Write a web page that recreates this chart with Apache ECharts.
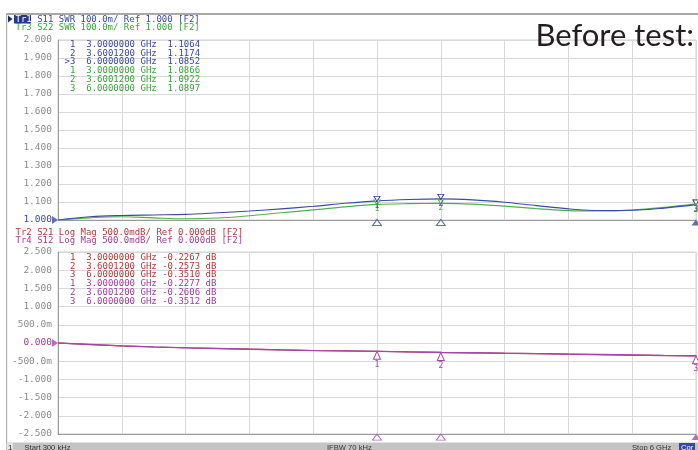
<!DOCTYPE html>
<html><head><meta charset="utf-8">
<script src="https://cdn.jsdelivr.net/npm/echarts@6/dist/echarts.min.js"></script>
<style>html,body{margin:0;padding:0;background:#fff}#c{width:698px;height:450px}</style>
</head><body><div id="c"></div>
<script>
// Frequencies (GHz)
const freqGHz = [0,0.3,0.6,0.9,1.2,1.5,1.8,2.1,2.4,2.7,3.0,3.3,3.6,3.9,4.2,4.5,4.8,5.1,5.4,5.7,6.0];
// Top plot: SWR
const s11Swr = [1.000,1.018,1.025,1.028,1.031,1.040,1.050,1.062,1.076,1.093,1.1064,1.114,1.1174,1.112,1.099,1.080,1.062,1.053,1.054,1.066,1.0852];
const s22Swr = [1.000,1.012,1.018,1.012,1.007,1.011,1.024,1.040,1.056,1.073,1.0866,1.091,1.0922,1.088,1.077,1.063,1.052,1.050,1.055,1.070,1.0897];
// Bottom plot: Log Mag (dB)
const s21dB = [0.000,-0.042,-0.080,-0.110,-0.131,-0.152,-0.171,-0.190,-0.206,-0.217,-0.2267,-0.244,-0.2573,-0.269,-0.281,-0.292,-0.306,-0.317,-0.331,-0.343,-0.3510];
const s12dB = [0.000,-0.040,-0.078,-0.108,-0.132,-0.150,-0.172,-0.188,-0.207,-0.216,-0.2277,-0.243,-0.2606,-0.268,-0.282,-0.291,-0.307,-0.316,-0.330,-0.344,-0.3512];
// Marker frequencies
const markerFreq = [3.0, 3.6001200, 6.0];
const markerNames = ['1','2','3'];
// Marker tables
const topTable = [
  [' 1','3.0000000','1.1064'],[' 2','3.6001200','1.1174'],['>3','6.0000000','1.0852'],
  [' 1','3.0000000','1.0866'],[' 2','3.6001200','1.0922'],[' 3','6.0000000','1.0897']];
const botTable = [
  [' 1','3.0000000','-0.2267'],[' 2','3.6001200','-0.2573'],[' 3','6.0000000','-0.3510'],
  [' 1','3.0000000','-0.2277'],[' 2','3.6001200','-0.2606'],[' 3','6.0000000','-0.3512']];
// Headers
const headerTop = ['Tr1 S11 SWR 100.0m/ Ref 1.000 [F2]','Tr3 S22 SWR 100.0m/ Ref 1.000 [F2]'];
const headerBot = ['Tr2 S21 Log Mag 500.0mdB/ Ref 0.000dB [F2]','Tr4 S12 Log Mag 500.0mdB/ Ref 0.000dB [F2]'];
const statusTexts = ['Start 300 kHz','IFBW 70 kHz','Stop 6 GHz'];

const C = {blue:'#3c4b9e', green:'#4fb04f', red:'#a83434', purple:'#a546a8',
  tBlue:'#3a4aa0', tGreen:'#3da33d', tRed:'#b03a3a', tPurple:'#9c3e9c', grid:'#d9d9d9', axis:'#9a9a9a', lbl:'#8c8c8c'};
const MONO = 'DejaVu Sans Mono';

function pairs(ys){ return freqGHz.map((f,i)=>[f,ys[i]]); }
function valAt(ys,f){
  const i = freqGHz.findIndex(x=>Math.abs(x-f)<0.01);
  return ys[i];
}
const chart = echarts.init(document.getElementById('c'), null, {renderer:'canvas'});

function topLbl(v){ return v.toFixed(3); }
function botLbl(v){ if (Math.abs(Math.abs(v)-0.5)<1e-9) return (v*1000).toFixed(1)+'m'; const s=v.toFixed(3); return s==='-0.000'?'0.000':s; }

function traceMarkers(ys, color, top){
  return {
    symbol:'triangle', symbolSize: top?[6,5]:[7,8], symbolRotate: top?180:0,
    symbolOffset: top?[0,-2]:[0,4],
    itemStyle:{color:'#fff', borderColor:color, borderWidth:1},
    label:{show:true, position:'bottom', distance: top?0:1, color:color, fontFamily:MONO, fontSize:8},
    data: markerFreq.map((f,i)=>({coord:[f, valAt(ys,f)], label:{formatter:markerNames[i]}}))
  };
}

const series = [
  {type:'line', xAxisIndex:0, yAxisIndex:0, data:pairs(s22Swr), showSymbol:false, smooth:0.35, lineStyle:{color:C.green,width:1.1}, z:3,
    markPoint: traceMarkers(s22Swr, C.green, true), silent:true},
  {type:'line', xAxisIndex:0, yAxisIndex:0, data:pairs(s11Swr), showSymbol:false, smooth:0.35, lineStyle:{color:C.blue,width:1.1}, z:4,
    markPoint: traceMarkers(s11Swr, C.blue, true), silent:true},
  {type:'line', xAxisIndex:1, yAxisIndex:1, data:pairs(s21dB), showSymbol:false, lineStyle:{color:C.red,width:1.2}, z:3, silent:true},
  {type:'line', xAxisIndex:1, yAxisIndex:1, data:pairs(s12dB), showSymbol:false, lineStyle:{color:C.purple,width:1.3}, z:4,
    markPoint: traceMarkers(s12dB, C.purple, false), silent:true},
  {type:'scatter', xAxisIndex:0, yAxisIndex:0, clip:false, silent:true, z:5,
    data: markerFreq.map((f,i)=>({value:[f,0.986], itemStyle: i===2?{color:C.blue}:{color:'#fff', borderColor:C.blue, borderWidth:1}})),
    symbol:'triangle', symbolSize:[9,6]},
  {type:'scatter', xAxisIndex:1, yAxisIndex:1, clip:false, silent:true, z:5,
    data: markerFreq.map((f,i)=>({value:[f,-2.585], itemStyle: i===2?{color:C.purple}:{color:'#fff', borderColor:C.purple, borderWidth:1}})),
    symbol:'triangle', symbolSize:[9,6]},
  {type:'scatter', xAxisIndex:0, yAxisIndex:0, clip:false, silent:true, z:6, data:[[0,1.0]],
    symbol:'triangle', symbolRotate:-90, symbolSize:[8,6], symbolOffset:[-3,0], itemStyle:{color:C.blue}},
  {type:'scatter', xAxisIndex:1, yAxisIndex:1, clip:false, silent:true, z:6, data:[[0,0]],
    symbol:'triangle', symbolRotate:-90, symbolSize:[8,6], symbolOffset:[-3,0], itemStyle:{color:C.purple}}
];

function xAx(gi){ return {type:'value', gridIndex:gi, min:0, max:6, interval:0.6,
  axisLabel:{show:false}, axisTick:{show:false},
  axisLine:{show:true, onZero:false, lineStyle:{color:C.axis, width:1}},
  splitLine:{show:true, lineStyle:{color:C.grid, width:1}}}; }

const graphic = [];
graphic.push({type:'rect', shape:{x:6, y:13, width:692, height:2}, style:{fill:'#a8a8a8'}, z:1});
graphic.push({type:'rect', shape:{x:6, y:13, width:1.2, height:430}, style:{fill:'#b0b0b0'}, z:1});
graphic.push({type:'polygon', shape:{points:[[8,15.5],[12.5,19],[8,22.5]]}, style:{fill:'#1c2a6e'}, z:10});
graphic.push({type:'rect', shape:{x:14, y:15, width:17, height:8.5}, style:{fill:'#2b3a86'}, z:10});
graphic.push({type:'text', x:15.5, y:19.3, z:11, style:{text:headerTop[0].slice(0,3), font:'9px '+MONO, fill:'#ffffff', verticalAlign:'middle'}});
graphic.push({type:'text', x:15.5+3*5.42, y:19.3, z:11, style:{text:headerTop[0].slice(3), font:'9px '+MONO, fill:C.tBlue, verticalAlign:'middle'}});
graphic.push({type:'text', x:15.5, y:27.6, z:11, style:{text:headerTop[1], font:'9px '+MONO, fill:C.tGreen, verticalAlign:'middle'}});
graphic.push({type:'text', x:15.5, y:232.5, z:11, style:{text:headerBot[0], font:'9px '+MONO, fill:C.tRed, verticalAlign:'middle'}});
graphic.push({type:'text', x:15.5, y:241, z:11, style:{text:headerBot[1], font:'9px '+MONO, fill:C.tPurple, verticalAlign:'middle'}});
topTable.forEach((r,i)=>{
  graphic.push({type:'text', x:64.6, y:44.3+i*8.9, z:11, style:{text:r[0]+'  '+r[1]+' GHz  '+r[2], font:'9px '+MONO, fill: i<3?C.tBlue:C.tGreen, verticalAlign:'middle'}});
});
botTable.forEach((r,i)=>{
  graphic.push({type:'text', x:64.6, y:257.3+i*8.9, z:11, style:{text:r[0]+'  '+r[1]+' GHz '+r[2]+' dB', font:'9px '+MONO, fill: i<3?C.tRed:C.tPurple, verticalAlign:'middle'}});
});
graphic.push({type:'rect', shape:{x:6, y:442.5, width:692, height:8}, style:{fill:'#c4c4c4'}, z:10});
graphic.push({type:'rect', shape:{x:7, y:443, width:6, height:7}, style:{fill:'#e4e4e4'}, z:11});
graphic.push({type:'text', x:8, y:443.5, z:12, style:{text:'1', font:'8px Liberation Sans', fill:'#333', verticalAlign:'top'}});
graphic.push({type:'text', x:24.5, y:443.5, z:12, style:{text:statusTexts[0], font:'7.6px Liberation Sans', fill:'#333', verticalAlign:'top'}});
graphic.push({type:'text', x:327, y:443.5, z:12, style:{text:statusTexts[1], font:'7.6px Liberation Sans', fill:'#333', verticalAlign:'top'}});
graphic.push({type:'text', x:632, y:443.5, z:12, style:{text:statusTexts[2], font:'7.6px Liberation Sans', fill:'#333', verticalAlign:'top'}});
graphic.push({type:'rect', shape:{x:679, y:443, width:16, height:7}, style:{fill:'#3848a0'}, z:11});
graphic.push({type:'text', x:681, y:443.5, z:12, style:{text:'Cor', font:'7.6px Liberation Sans', fill:'#fff', verticalAlign:'top'}});
graphic.push({type:'text', x:694, y:35.5, z:20, style:{text:'Before test:', font:'31px Lato', fill:'#231f20', align:'right', verticalAlign:'middle'}});

chart.setOption({
  animation:false,
  backgroundColor:'#fff',
  grid:[
    {left:58, top:40, width:638, height:180, show:true, borderColor:'#cfcfcf', borderWidth:1, backgroundColor:'transparent'},
    {left:58, top:252, width:638, height:182, show:true, borderColor:'#cfcfcf', borderWidth:1, backgroundColor:'transparent'}
  ],
  xAxis:[xAx(0), xAx(1)],
  yAxis:[
    {type:'value', gridIndex:0, min:1.0, max:2.0, interval:0.1,
      axisLabel:{formatter:topLbl, fontFamily:MONO, fontSize:9.5, margin:6, color:(v)=>Math.abs(v-1)<1e-9?C.tBlue:C.lbl},
      axisLine:{show:true, lineStyle:{color:C.axis}}, axisTick:{show:false},
      splitLine:{show:true, lineStyle:{color:C.grid}}},
    {type:'value', gridIndex:1, min:-2.5, max:2.5, interval:0.5,
      axisLabel:{formatter:botLbl, fontFamily:MONO, fontSize:9.5, margin:6, color:(v)=>Math.abs(v)<1e-9?C.tPurple:C.lbl},
      axisLine:{show:true, onZero:false, lineStyle:{color:C.axis}}, axisTick:{show:false},
      splitLine:{show:true, lineStyle:{color:C.grid}}}
  ],
  series: series,
  graphic: graphic
});
</script></body></html>
